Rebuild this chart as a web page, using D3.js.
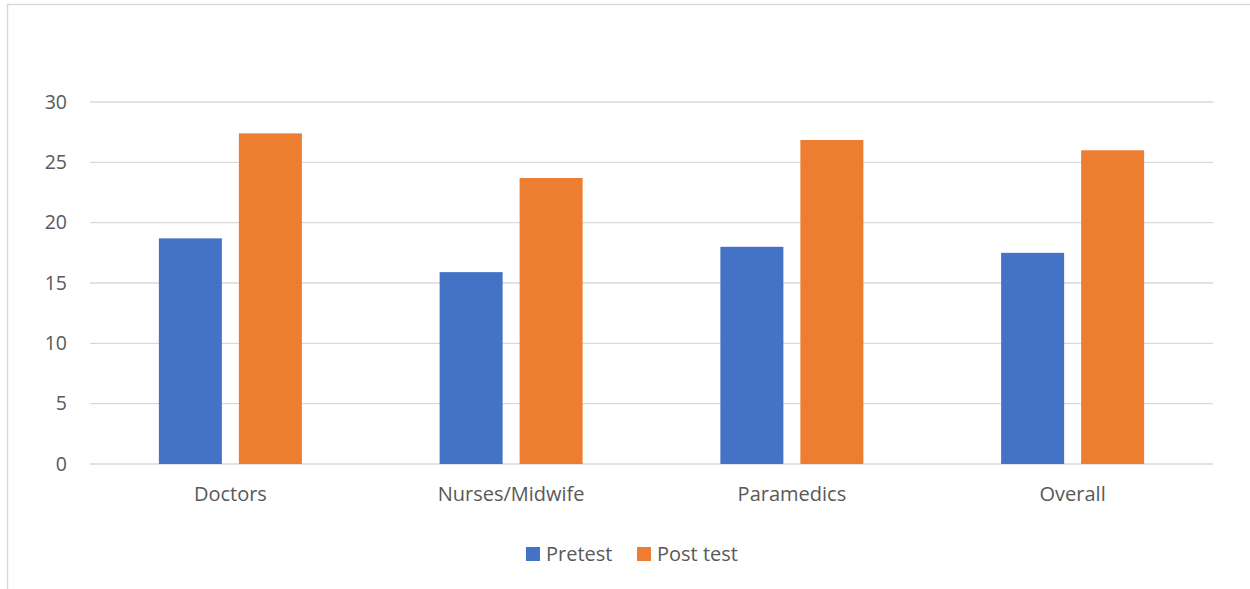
<!DOCTYPE html>
<html>
<head>
<meta charset="utf-8">
<script src="https://cdn.jsdelivr.net/npm/d3@7"></script>
<style>
  body { margin: 0; background: #fff; }
  svg text { font-family: "Open Sans", "Noto Sans", sans-serif; fill: #595959; }
</style>
</head>
<body>
<div id="chart"></div>
<script>
// chart values
const groups = ["Doctors", "Nurses/Midwife", "Paramedics", "Overall"];
const seriesNames = ["Pretest", "Post test"];
const pretest = [18.7, 15.9, 18.0, 17.5];
const posttest = [27.4, 23.7, 26.85, 26.0];
const yTicks = [0, 5, 10, 15, 20, 25, 30];
const colors = ["#4472c4", "#ed7d31"];

const svgWidth = 1250, svgHeight = 589;
const margin = { top: 102, right: 37, bottom: 125, left: 90 };
const width = svgWidth - margin.left - margin.right;
const height = svgHeight - margin.top - margin.bottom;

const svg = d3.select("#chart").append("svg")
    .attr("width", svgWidth)
    .attr("height", svgHeight);

// outer frame of the chart area (only left and top visible)
svg.append("rect")
    .attr("x", 7.5).attr("y", 4.5)
    .attr("width", 1260).attr("height", 600)
    .attr("fill", "none")
    .attr("stroke", "#d9d9d9")
    .attr("stroke-width", 1.5);

const g = svg.append("g").attr("transform", `translate(${margin.left},${margin.top})`);

const y = d3.scaleLinear().domain([0, 30]).range([height, 0]);
const x0 = d3.scaleBand().domain(groups).range([0, width]);
// inner scale: two bars of 63px with a 17px gap, centred in the band
const x1 = d3.scaleBand().domain(seriesNames)
    .range([(x0.bandwidth() - 143) / 2, (x0.bandwidth() + 143) / 2])
    .paddingInner(17 / 80);

// gridlines
g.append("g")
    .selectAll("line")
    .data(yTicks)
    .enter().append("line")
    .attr("x1", 0).attr("x2", width)
    .attr("y1", d => y(d)).attr("y2", d => y(d))
    .attr("stroke", "#d9d9d9")
    .attr("stroke-width", 1.3);

// y axis labels
const yAxis = g.append("g")
    .call(d3.axisLeft(y).tickValues(yTicks).tickSize(0).tickPadding(23));
yAxis.select(".domain").remove();
yAxis.selectAll("text").attr("font-size", "19.5px").attr("fill", "#595959")
    .style("font-family", "'Open Sans', sans-serif");

// x axis labels
const xAxis = g.append("g")
    .attr("transform", `translate(0,${height})`)
    .call(d3.axisBottom(x0).tickSize(0).tickPadding(23));
xAxis.select(".domain").remove();
xAxis.selectAll("text").attr("font-size", "20px").attr("fill", "#595959")
    .style("font-family", "'Open Sans', sans-serif");

// bars
const rows = groups.map((grp, i) => ({ grp, vals: [pretest[i], posttest[i]] }));
const grpG = g.selectAll(".grp")
    .data(rows)
    .enter().append("g")
    .attr("transform", d => `translate(${x0(d.grp)},0)`);

grpG.selectAll("rect")
    .data(d => d.vals.map((v, k) => ({ name: seriesNames[k], v, k })))
    .enter().append("rect")
    .attr("x", d => x1(d.name))
    .attr("width", x1.bandwidth())
    .attr("y", d => y(d.v))
    .attr("height", d => y(0) - y(d.v))
    .attr("fill", d => colors[d.k]);

// legend
const legendItems = [{ x: 526, name: seriesNames[0], c: colors[0] }, { x: 637, name: seriesNames[1], c: colors[1] }];
const legend = svg.append("g");
legend.selectAll("rect")
    .data(legendItems)
    .enter().append("rect")
    .attr("x", d => d.x).attr("y", 547)
    .attr("width", 14).attr("height", 14)
    .attr("fill", d => d.c);
legend.selectAll("text")
    .data(legendItems)
    .enter().append("text")
    .attr("x", d => d.x + 20).attr("y", 561)
    .attr("font-size", "20px")
    .text(d => d.name);
</script>
</body>
</html>
